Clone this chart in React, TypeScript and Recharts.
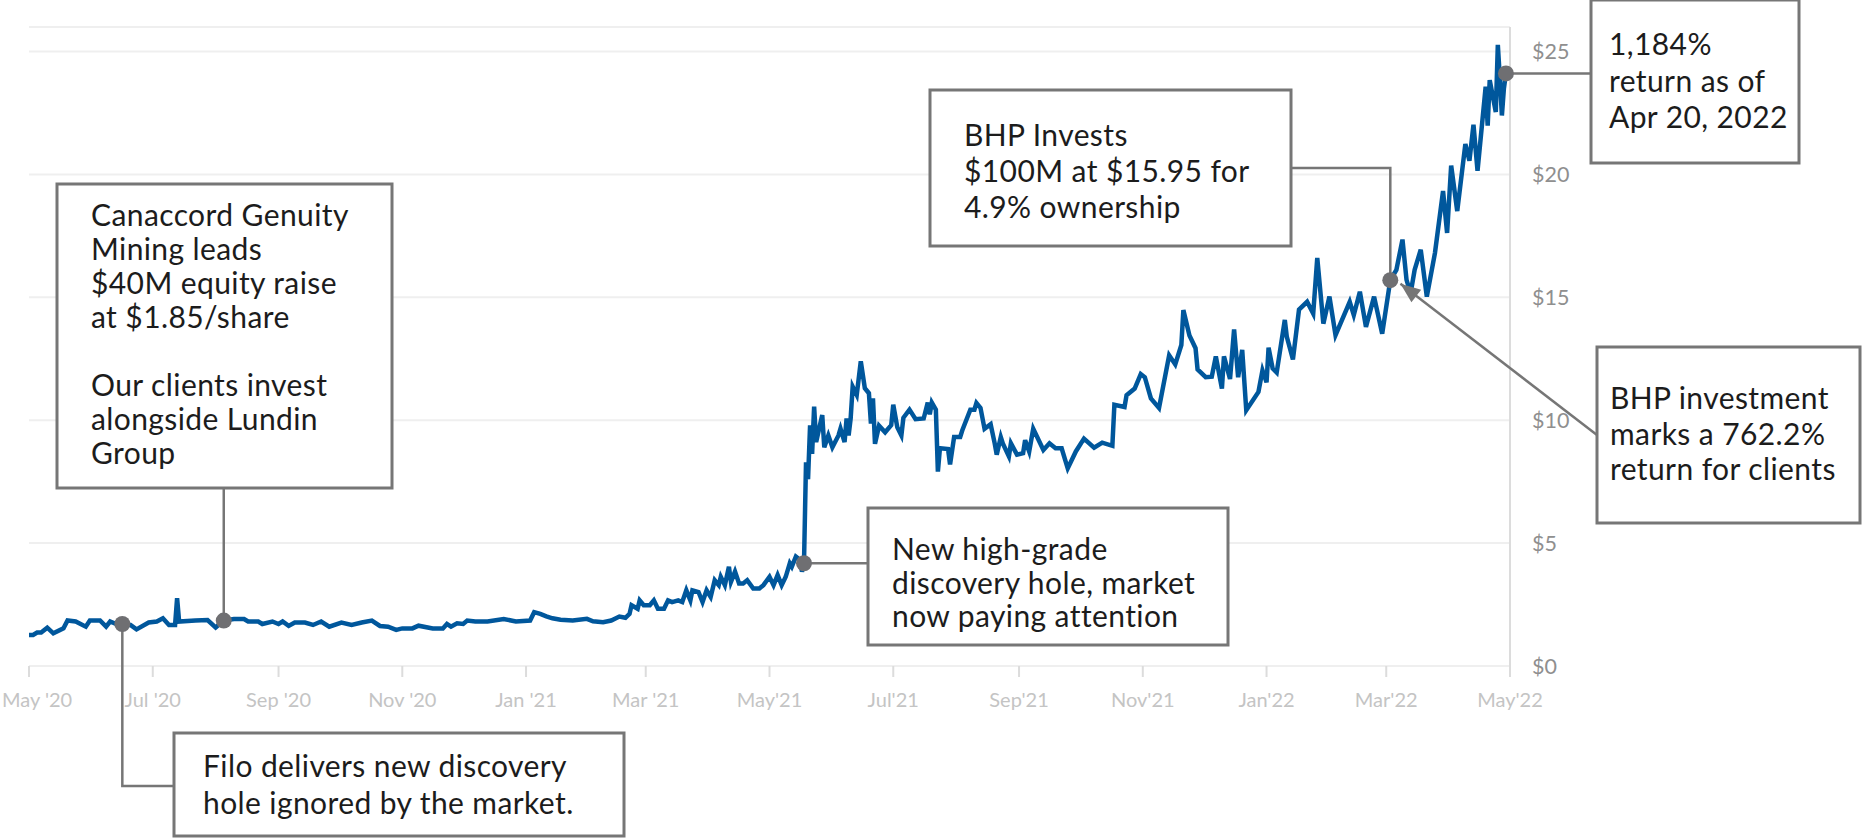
import React from 'react';
import { LineChart, Line, XAxis, YAxis, CartesianGrid, ReferenceDot } from 'recharts';

// Filo share price (USD)
const prices2020: [string, number][] = [
  ['2020-05-01', 1.26], ['2020-05-03', 1.26], ['2020-05-05', 1.36], ['2020-05-07', 1.36],
  ['2020-05-10', 1.56], ['2020-05-13', 1.33], ['2020-05-18', 1.53], ['2020-05-20', 1.85],
  ['2020-05-24', 1.81], ['2020-05-29', 1.6], ['2020-05-31', 1.85], ['2020-06-05', 1.85],
  ['2020-06-08', 1.6], ['2020-06-10', 1.81], ['2020-06-13', 1.71], ['2020-06-16', 1.71],
  ['2020-06-20', 1.67], ['2020-06-23', 1.49], ['2020-06-29', 1.77], ['2020-07-03', 1.81],
  ['2020-07-06', 1.94], ['2020-07-09', 1.67], ['2020-07-12', 1.67], ['2020-07-13', 2.76],
  ['2020-07-14', 1.81], ['2020-07-22', 1.85], ['2020-07-28', 1.87], ['2020-08-01', 1.57],
  ['2020-08-05', 1.85], ['2020-08-10', 1.91], ['2020-08-15', 1.91], ['2020-08-17', 1.81],
  ['2020-08-22', 1.81], ['2020-08-24', 1.71], ['2020-08-29', 1.81], ['2020-09-01', 1.71],
  ['2020-09-03', 1.81], ['2020-09-06', 1.63], ['2020-09-09', 1.77], ['2020-09-14', 1.77],
  ['2020-09-18', 1.67], ['2020-09-22', 1.81], ['2020-09-26', 1.6], ['2020-10-02', 1.77],
  ['2020-10-07', 1.67], ['2020-10-12', 1.77], ['2020-10-17', 1.85], ['2020-10-21', 1.63],
  ['2020-10-25', 1.6], ['2020-10-29', 1.47], ['2020-11-01', 1.53], ['2020-11-06', 1.53],
  ['2020-11-09', 1.64], ['2020-11-16', 1.53], ['2020-11-21', 1.53], ['2020-11-23', 1.71],
  ['2020-11-25', 1.6], ['2020-11-28', 1.74], ['2020-12-01', 1.71], ['2020-12-03', 1.85],
  ['2020-12-07', 1.81], ['2020-12-13', 1.81], ['2020-12-21', 1.91], ['2020-12-27', 1.81],
];

const prices2021: [string, number][] = [
  ['2021-01-03', 1.85], ['2021-01-05', 2.19], ['2021-01-08', 2.12], ['2021-01-11', 2.02],
  ['2021-01-14', 1.94], ['2021-01-18', 1.88], ['2021-01-24', 1.85], ['2021-01-31', 1.92],
  ['2021-02-03', 1.82], ['2021-02-08', 1.78], ['2021-02-12', 1.85], ['2021-02-16', 2.01],
  ['2021-02-19', 1.96], ['2021-02-21', 2.12], ['2021-02-22', 2.47], ['2021-02-25', 2.33],
  ['2021-02-26', 2.67], ['2021-02-28', 2.47], ['2021-03-03', 2.47], ['2021-03-05', 2.67],
  ['2021-03-07', 2.33], ['2021-03-10', 2.33], ['2021-03-12', 2.67], ['2021-03-14', 2.6],
  ['2021-03-17', 2.67], ['2021-03-19', 2.6], ['2021-03-21', 3.08], ['2021-03-23', 2.67],
  ['2021-03-24', 3.08], ['2021-03-27', 3.01], ['2021-03-29', 2.6], ['2021-03-31', 3.08],
  ['2021-04-02', 2.81], ['2021-04-04', 3.49], ['2021-04-06', 3.29], ['2021-04-07', 3.63],
  ['2021-04-09', 3.29], ['2021-04-11', 4.04], ['2021-04-12', 3.42], ['2021-04-14', 3.84],
  ['2021-04-16', 3.36], ['2021-04-18', 3.36], ['2021-04-20', 3.49], ['2021-04-23', 3.15],
  ['2021-04-26', 3.15], ['2021-04-28', 3.29], ['2021-05-01', 3.63], ['2021-05-03', 3.29],
  ['2021-05-05', 3.7], ['2021-05-07', 3.29], ['2021-05-09', 3.63], ['2021-05-11', 4.18],
  ['2021-05-12', 4.04], ['2021-05-14', 4.45], ['2021-05-16', 4.32], ['2021-05-17', 3.84],
  ['2021-05-18', 4.18], ['2021-05-19', 8.29], ['2021-05-20', 7.6], ['2021-05-21', 9.79],
  ['2021-05-22', 8.63], ['2021-05-23', 10.55], ['2021-05-24', 9.11], ['2021-05-27', 10.21],
  ['2021-05-28', 8.9], ['2021-05-30', 9.38], ['2021-06-01', 8.9], ['2021-06-04', 9.38],
  ['2021-06-05', 9.66], ['2021-06-07', 9.11], ['2021-06-08', 10.07], ['2021-06-09', 9.38],
  ['2021-06-10', 10.07], ['2021-06-11', 11.37], ['2021-06-13', 11.03], ['2021-06-15', 12.4],
  ['2021-06-17', 11.3], ['2021-06-19', 11.1], ['2021-06-20', 9.86], ['2021-06-21', 10.89],
  ['2021-06-22', 9.04], ['2021-06-24', 9.78], ['2021-06-27', 9.51], ['2021-06-30', 9.8],
  ['2021-07-01', 10.63], ['2021-07-03', 9.71], ['2021-07-05', 9.38], ['2021-07-06', 10.1],
  ['2021-07-09', 10.43], ['2021-07-12', 10.04], ['2021-07-16', 10.07], ['2021-07-18', 10.72],
  ['2021-07-19', 10.24], ['2021-07-20', 10.72], ['2021-07-22', 10.43], ['2021-07-23', 7.91],
  ['2021-07-24', 8.86], ['2021-07-28', 8.83], ['2021-07-29', 8.2], ['2021-07-31', 9.32],
  ['2021-08-03', 9.32], ['2021-08-04', 9.58], ['2021-08-08', 10.43], ['2021-08-10', 10.43],
  ['2021-08-11', 10.7], ['2021-08-13', 10.5], ['2021-08-15', 9.65], ['2021-08-18', 9.84],
  ['2021-08-20', 9.06], ['2021-08-21', 8.6], ['2021-08-23', 9.32], ['2021-08-24', 9.06],
  ['2021-08-27', 8.53], ['2021-08-28', 9.06], ['2021-08-31', 8.6], ['2021-09-03', 8.66],
  ['2021-09-04', 9.19], ['2021-09-06', 8.73], ['2021-09-08', 9.65], ['2021-09-13', 8.79],
  ['2021-09-16', 9.06], ['2021-09-19', 8.86], ['2021-09-22', 8.86], ['2021-09-25', 8.04],
  ['2021-09-29', 8.73], ['2021-10-03', 9.25], ['2021-10-08', 8.88], ['2021-10-12', 9.09],
  ['2021-10-17', 8.96], ['2021-10-18', 10.63], ['2021-10-23', 10.54], ['2021-10-24', 11.02],
  ['2021-10-28', 11.29], ['2021-10-31', 11.88], ['2021-11-02', 11.75], ['2021-11-05', 10.89],
  ['2021-11-09', 10.5], ['2021-11-14', 12.64], ['2021-11-17', 12.27], ['2021-11-20', 13.06],
  ['2021-11-21', 14.48], ['2021-11-24', 13.45], ['2021-11-27', 12.93], ['2021-11-28', 12.07],
  ['2021-12-02', 11.75], ['2021-12-05', 11.77], ['2021-12-07', 12.6], ['2021-12-10', 11.29],
  ['2021-12-11', 12.6], ['2021-12-14', 11.68], ['2021-12-16', 13.69], ['2021-12-18', 11.75],
  ['2021-12-20', 12.86], ['2021-12-22', 10.41], ['2021-12-28', 11.15], ['2021-12-30', 12.03],
];

const prices2022: [string, number][] = [
  ['2022-01-01', 11.54], ['2022-01-02', 12.95], ['2022-01-04', 12.11], ['2022-01-06', 11.94],
  ['2022-01-10', 14.08], ['2022-01-11', 13.39], ['2022-01-14', 12.47], ['2022-01-17', 14.5],
  ['2022-01-21', 14.82], ['2022-01-24', 14.34], ['2022-01-26', 16.6], ['2022-01-29', 13.93],
  ['2022-02-01', 15.03], ['2022-02-04', 13.46], ['2022-02-11', 14.82], ['2022-02-13', 14.28],
  ['2022-02-16', 15.23], ['2022-02-19', 13.8], ['2022-02-23', 15.03], ['2022-02-27', 13.52],
  ['2022-03-03', 15.7], ['2022-03-06', 16.12], ['2022-03-09', 17.35], ['2022-03-11', 15.71],
  ['2022-03-13', 15.16], ['2022-03-15', 16.12], ['2022-03-18', 16.94], ['2022-03-21', 15.03],
  ['2022-03-25', 16.8], ['2022-03-29', 19.33], ['2022-03-31', 17.62], ['2022-04-02', 20.36],
  ['2022-04-05', 18.51], ['2022-04-09', 21.24], ['2022-04-11', 20.56], ['2022-04-13', 22.02],
  ['2022-04-15', 20.15], ['2022-04-19', 23.57], ['2022-04-20', 21.99], ['2022-04-21', 23.84],
  ['2022-04-24', 22.54], ['2022-04-25', 25.27], ['2022-04-26', 23.91], ['2022-04-27', 22.4],
  ['2022-04-28', 23.5], ['2022-04-29', 24.11], ['2022-04-30', 24.3],
];

const monthTicks = [
  '2020-05-01', '2020-07-01', '2020-09-01', '2020-11-01', '2021-01-01', '2021-03-01', '2021-05-01',
  '2021-07-01', '2021-09-01', '2021-11-01', '2022-01-01', '2022-03-01', '2022-05-01',
];
const monthLabels = [
  "May '20", "Jul '20", "Sep '20", "Nov '20", "Jan '21", "Mar '21", "May'21",
  "Jul'21", "Sep'21", "Nov'21", "Jan'22", "Mar'22", "May'22",
];
const priceTicks = [0, 5, 10, 15, 20, 25];

// callout anchor points on the price line
const eventDates = ['2020-06-16', '2020-08-05', '2021-05-18', '2022-03-03', '2022-03-08', '2022-04-29'];
const eventPrices = [1.71, 1.85, 4.18, 15.7, 15.55, 24.11];
const eventTexts = [
  ['Filo delivers new discovery', 'hole ignored by the market.'],
  ['Canaccord Genuity', 'Mining leads', '$40M equity raise', 'at $1.85/share', '', 'Our clients invest', 'alongside Lundin', 'Group'],
  ['New high-grade', 'discovery hole, market', 'now paying attention'],
  ['BHP Invests', '$100M at $15.95 for', '4.9% ownership'],
  ['BHP investment', 'marks a 762.2%', 'return for clients'],
  ['1,184%', 'return as of', 'Apr 20, 2022'],
];

const data = [...prices2020, ...prices2021, ...prices2022].map(([d, v]) => ({ t: Date.parse(d), price: v }));
const tickTimes = monthTicks.map((d) => Date.parse(d));

const FONT = 'Lato, "Open Sans", sans-serif';
const GREY = '#767676';

// box layout for each callout (pixels): box = [x, y, w, h], text = first baseline
const layouts = [
  { route: 'downRight', box: [174, 733, 450, 103], text: [203, 777], gap: 37, elbow: 786 },
  { route: 'up', box: [57, 184, 335, 304], text: [91, 226], gap: 34, elbow: 0 },
  { route: 'right', box: [868, 508, 360, 137], text: [892, 560], gap: 33.5, elbow: 0 },
  { route: 'upLeft', box: [930, 90, 361, 156], text: [964, 146], gap: 36, elbow: 168 },
  { route: 'arrow', box: [1597, 347, 263, 176], text: [1610, 409], gap: 35.5, elbow: 435 },
  { route: 'right', box: [1591, 0, 208, 163], text: [1609, 55], gap: 36.5, elbow: 0 },
];

const connectorPath = (route: string, cx: number, cy: number, box: number[], elbow: number) => {
  const [bx, by, bw, bh] = box;
  switch (route) {
    case 'downRight':
      return `M${cx},${cy} V${elbow} H${bx}`;
    case 'up':
      return `M${cx},${cy} V${by + bh}`;
    case 'upLeft':
      return `M${cx},${cy} V${elbow} H${bx + bw}`;
    case 'arrow':
      return `M${bx},${elbow} L${cx},${cy}`;
    default:
      return `M${cx},${cy} H${bx}`;
  }
};

const Callout = ({ cx, cy, idx }: { cx: number; cy: number; idx: number }) => {
  const l = layouts[idx];
  const [bx, by, bw, bh] = l.box;
  const d = connectorPath(l.route, cx, cy, l.box, l.elbow);

  let head = null;
  if (l.route === 'arrow') {
    const dx = cx - bx;
    const dy = cy - l.elbow;
    const len = Math.sqrt(dx * dx + dy * dy);
    const ux = dx / len;
    const uy = dy / len;
    const baseX = cx - ux * 20;
    const baseY = cy - uy * 20;
    head = (
      <polygon
        points={`${cx},${cy} ${baseX - uy * 8},${baseY + ux * 8} ${baseX + uy * 8},${baseY - ux * 8}`}
        fill={GREY}
      />
    );
  }

  return (
    <g className={`callout-${idx}`}>
      <path d={d} fill="none" stroke={GREY} strokeWidth={2.5} />
      {head}
      <rect x={bx} y={by} width={bw} height={bh} fill="#fff" stroke={GREY} strokeWidth={3} />
      <text fontFamily={FONT} fontSize={30} letterSpacing={0.4} fill="#1c1c1c">
        {eventTexts[idx].map((line, i) => (
          <tspan key={i} x={l.text[0]} y={l.text[1] + i * l.gap}>{line}</tspan>
        ))}
      </text>
      {l.route !== 'arrow' && <circle cx={cx} cy={cy} r={8} fill="#6f6f72" />}
    </g>
  );
};

const MonthTick = ({ x, y, payload }: any) => {
  const i = tickTimes.indexOf(payload.value);
  const first = i === 0;
  return (
    <text x={first ? 2 : x} y={y} dy="0.71em" textAnchor={first ? 'start' : 'middle'}
      fill="#c4c4c4" fontSize={20} fontFamily={FONT}>
      {monthLabels[i]}
    </text>
  );
};

export default function App() {
  return (
    <div style={{ position: 'absolute', left: 0, top: 0, background: '#fff' }}>
      <LineChart width={1862} height={840} data={data} margin={{ top: 27, right: 292, bottom: 134, left: 29 }}>
        <CartesianGrid vertical={false} stroke="#efefef" strokeWidth={2} />
        <XAxis
          dataKey="t"
          type="number"
          scale="time"
          domain={[tickTimes[0], tickTimes[tickTimes.length - 1]]}
          ticks={tickTimes}
          height={40}
          axisLine={{ stroke: '#efefef', strokeWidth: 2 }}
          tickLine={{ stroke: '#dcdcdc', strokeWidth: 2 }}
          tickSize={11}
          tickMargin={16}
          tick={<MonthTick />}
          interval={0}
        />
        <YAxis
          orientation="right"
          domain={[0, 26]}
          ticks={priceTicks}
          width={60}
          axisLine={{ stroke: '#dcdcdc', strokeWidth: 2 }}
          tickLine={false}
          tickMargin={16}
          tickFormatter={(v: number) => `$${v}`}
          tick={{ fill: '#8f8f8f', fontSize: 21.5, fontFamily: FONT }}
        />
        <Line type="linear" dataKey="price" stroke="#00579c" strokeWidth={4.5} dot={false} isAnimationActive={false} />
        {eventDates.map((d, i) => (
          <ReferenceDot
            key={d}
            x={Date.parse(d)}
            y={eventPrices[i]}
            r={8}
            shape={(p: any) => <Callout cx={p.cx} cy={p.cy} idx={i} />}
          />
        ))}
      </LineChart>
    </div>
  );
}
